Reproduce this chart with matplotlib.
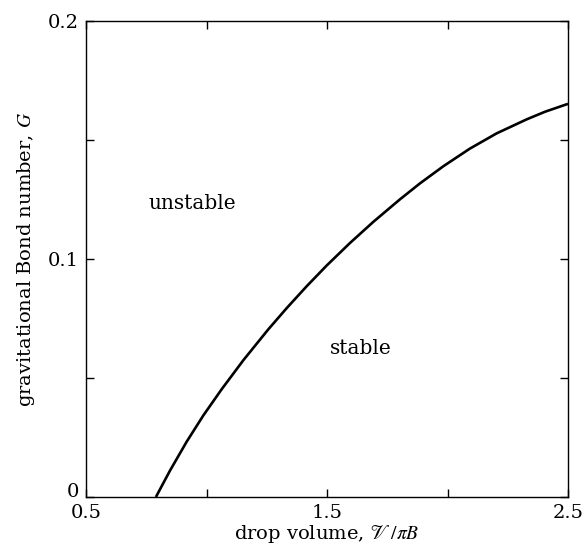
import matplotlib
matplotlib.use('Agg')
import matplotlib.pyplot as plt
import matplotlib.transforms as mtransforms
import numpy as np

plt.rcParams['font.family'] = ['DejaVu Serif']
plt.rcParams['mathtext.fontset'] = 'stix'

# boundary of stability
volume = [0.790, 0.849, 0.918, 0.987, 1.063, 1.153, 1.256, 1.333, 1.416, 1.499,
          1.595, 1.692, 1.803, 1.886, 1.983, 2.093, 2.204, 2.329, 2.405, 2.5]
bond = [0.0, 0.0112, 0.0233, 0.0343, 0.0453, 0.0575, 0.0704, 0.0794, 0.0886, 0.0973,
        0.1067, 0.1156, 0.1251, 0.1318, 0.1390, 0.1464, 0.1528, 0.1587, 0.1619, 0.1652]

xticks = [0.5, 1.0, 1.5, 2.0, 2.5]
xticklabels = ['0.5', '', '1.5', '', '2.5']
yticks = [0, 0.05, 0.1, 0.15, 0.2]
yticklabels = ['0', '', '0.1', '', '0.2']

fig = plt.figure(figsize=(5.84, 5.49), dpi=100)
ax = fig.add_axes([0.1473, 0.0947, 0.8253, 0.867])

ax.plot(volume, bond, color='black', lw=1.9, solid_capstyle='butt', solid_joinstyle='round')

ax.set_xlim(0.5, 2.5)
ax.set_ylim(0, 0.2)
ax.set_xticks(xticks)
ax.set_xticklabels(xticklabels)
ax.set_yticks(yticks)
ax.set_yticklabels(yticklabels)
ax.tick_params(direction='in', length=6, width=1, top=True, right=True,
               labelsize=14, pad=5)
for s in ax.spines.values():
    s.set_linewidth(1)

# nudge the "0" up a little so it clears the "0.5"
lab0 = ax.get_yticklabels()[0]
lab0.set_transform(lab0.get_transform() +
                   mtransforms.ScaledTranslation(0, 5 / 72, fig.dpi_scale_trans))

ax.text(0.94, 0.1235, 'unstable', fontsize=14.5, ha='center', va='center')
ax.text(1.641, 0.0626, 'stable', fontsize=14.5, ha='center', va='center')

ax.set_xlabel(r'drop volume, $\mathscr{V}\,/\pi B$', fontsize=14, labelpad=1)
ax.set_ylabel(r'gravitational Bond number, $G$', fontsize=14, labelpad=8)

fig.savefig('out.png', dpi=100)
